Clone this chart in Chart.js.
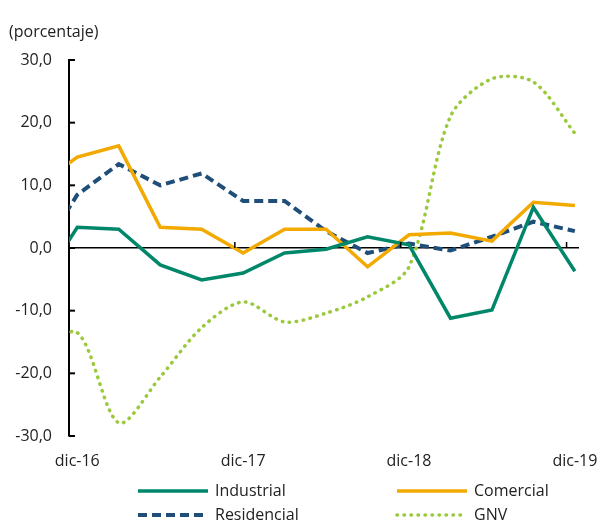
<!DOCTYPE html>
<html>
<head>
<meta charset="utf-8">
<script src="https://cdn.jsdelivr.net/npm/chart.js@4"></script>
<style>
  html, body { margin: 0; padding: 0; background: #fff; }
  #wrap { width: 608px; height: 525px; }
</style>
</head>
<body>
<div id="wrap"><canvas id="myChart" width="608" height="525"></canvas></div>
<script>
const quarters = ["sep-16", "dic-16", "mar-17", "jun-17", "sep-17", "dic-17", "mar-18", "jun-18", "sep-18", "dic-18", "mar-19", "jun-19", "sep-19", "dic-19"];
const industrial = [-7.0, 3.3, 3.0, -2.7, -5.1, -4.0, -0.8, -0.2, 1.8, 0.5, -11.2, -9.9, 6.5, -3.7];
const comercial = [9.8, 14.5, 16.3, 3.3, 3.0, -0.8, 3.0, 3.0, -3.0, 2.1, 2.4, 1.1, 7.3, 6.8];
const residencial = [-2.0, 8.5, 13.4, 10.0, 11.9, 7.5, 7.5, 2.7, -0.8, 0.7, -0.4, 1.8, 4.2, 2.7];
const gnv = [-17.0, -13.5, -27.9, -20.6, -12.7, -8.6, -11.8, -10.4, -7.8, -3.0, 21.0, 27.0, 26.5, 18.3];

const tickLabels = ["dic-16", "dic-17", "dic-18", "dic-19"];
const tickQuarters = [0, 4, 8, 12];

const FONT = "'Open Sans'";
const TEXT = "#222222";

function points(values) {
  return values.map((v, i) => ({ x: i - 1, y: v }));
}

const decorations = {
  id: "decorations",
  afterDraw(chart) {
    const ctx = chart.ctx;
    const area = chart.chartArea;
    const x = chart.scales.x;
    const y = chart.scales.y;
    ctx.save();

    // tick marks inside the y axis
    ctx.strokeStyle = "#000";
    ctx.lineWidth = 2;
    y.ticks.forEach((t) => {
      const py = y.getPixelForValue(t.value);
      ctx.beginPath();
      ctx.moveTo(area.left, py);
      ctx.lineTo(area.left + 6, py);
      ctx.stroke();
    });

    // small tick marks on the zero line
    const y0 = y.getPixelForValue(0);
    ctx.lineWidth = 1.5;
    tickQuarters.slice(1).forEach((q) => {
      const px = x.getPixelForValue(q - 0.2);
      ctx.beginPath();
      ctx.moveTo(px, y0);
      ctx.lineTo(px, y0 - 6);
      ctx.stroke();
    });

    // unit label
    ctx.font = "16px " + FONT;
    ctx.fillStyle = TEXT;
    ctx.textAlign = "left";
    ctx.textBaseline = "middle";
    ctx.fillText("(porcentaje)", 9, 32);

    // legend, two columns
    const slots = [
      { x: 138, y: 491 },
      { x: 397, y: 491 },
      { x: 138, y: 515 },
      { x: 397, y: 515 },
    ];
    chart.data.datasets.forEach((ds, i) => {
      const s = slots[i];
      ctx.strokeStyle = ds.borderColor;
      ctx.lineWidth = ds.borderWidth;
      ctx.lineCap = ds.borderCapStyle || "butt";
      ctx.setLineDash(ds.borderDash || []);
      ctx.beginPath();
      ctx.moveTo(s.x, s.y);
      ctx.lineTo(s.x + 70, s.y);
      ctx.stroke();
      ctx.setLineDash([]);
      ctx.fillStyle = TEXT;
      ctx.fillText(ds.label, s.x + 77, s.y);
    });

    ctx.restore();
  },
};

const ctx = document.getElementById("myChart").getContext("2d");

const chart = new Chart(ctx, {
  type: "line",
  data: {
    datasets: [
      {
        label: "Industrial",
        data: points(industrial),
        borderColor: "#00876a",
        borderWidth: 3.5,
        pointRadius: 0,
        tension: 0,
      },
      {
        label: "Comercial",
        data: points(comercial),
        borderColor: "#f2a900",
        borderWidth: 3.5,
        pointRadius: 0,
        tension: 0,
      },
      {
        label: "Residencial",
        data: points(residencial),
        borderColor: "#1f4e79",
        borderWidth: 4,
        borderDash: [9, 5],
        pointRadius: 0,
        tension: 0,
      },
      {
        label: "GNV",
        data: points(gnv),
        borderColor: "#9aca3c",
        borderWidth: 3.5,
        borderDash: [0.5, 6.5],
        borderCapStyle: "round",
        pointRadius: 0,
        tension: 0.3,
      },
    ],
  },
  options: {
    responsive: false,
    animation: false,
    layout: {
      padding: { left: 0, right: 29, top: 60, bottom: 49 },
    },
    plugins: {
      legend: { display: false },
      tooltip: { enabled: false },
    },
    scales: {
      x: {
        type: "linear",
        min: -0.2,
        max: 12.1,
        afterBuildTicks: (scale) => {
          scale.ticks = tickQuarters.map((v) => ({ value: v }));
        },
        afterFit: (scale) => {
          scale.height = 40;
          scale.paddingLeft = 0;
          scale.paddingRight = 0;
        },
        ticks: {
          autoSkip: false,
          maxRotation: 0,
          padding: 16,
          color: TEXT,
          font: { family: FONT, size: 16 },
          callback: (v) => tickLabels[tickQuarters.indexOf(v)],
        },
        grid: { display: false, drawTicks: false },
        border: { display: false },
      },
      y: {
        min: -30,
        max: 30,
        afterFit: (scale) => {
          scale.width = 69;
        },
        ticks: {
          stepSize: 10,
          padding: 17,
          color: TEXT,
          font: { family: FONT, size: 16 },
          callback: (v) => v.toFixed(1).replace(".", ","),
        },
        grid: {
          drawTicks: false,
          lineWidth: 1.5,
          color: (c) => (c.tick && c.tick.value === 0 ? "#000" : "rgba(0,0,0,0)"),
        },
        border: { display: true, color: "#000", width: 2 },
      },
    },
  },
  plugins: [decorations],
});
</script>
</body>
</html>
